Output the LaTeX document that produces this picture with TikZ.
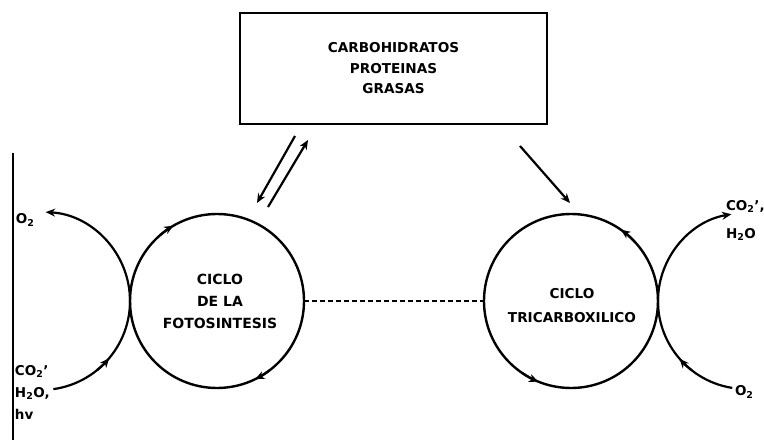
\documentclass[tikz,border=0pt]{standalone}
\usepackage{fontspec}
\setmainfont{DejaVu Sans}
\usetikzlibrary{arrows.meta,calc}
\begin{document}
\begin{tikzpicture}[x=1pt,y=1pt,line width=2pt,
  lbl/.style={font=\fontsize{13.5}{16}\selectfont\bfseries, inner sep=0pt},
  cyc/.style={circle, draw, minimum size=174pt, inner sep=0pt, outer sep=0pt, line width=2.4pt},
  ctext/.style={align=center, inner sep=0pt},
  tip/.style={-{Stealth[length=9.5pt,width=8pt]}, line width=2.2pt},
  link/.style={dash pattern=on 5pt off 3pt, line width=1.2pt}]
\useasboundingbox (0,0) rectangle (764,440);
% source box
\node[draw, minimum width=307pt, minimum height=111pt, line width=2.2pt, inner sep=0pt,
      align=center, font=\fontsize{13.6}{20.5}\selectfont\bfseries] (B) at (393.5,371.5)
      {CARBOHIDRATOS\\PROTEINAS\\GRASAS};
% cycles
\node[cyc] (L) at (217,139) {};
\node[cyc] (R) at (571,139) {};
\node[ctext, font=\fontsize{14}{22}\selectfont\bfseries] (Lt) at (220,139) {CICLO\\DE LA\\FOTOSINTESIS};
\node[ctext, font=\fontsize{13.6}{24}\selectfont\bfseries] (Rt) at (572,134) {CICLO\\TRICARBOXILICO};
\draw[link] (L.east) -- (R.west);
% direction marks on cycles
\draw[tip] (L.131) arc[start angle=131,end angle=120,radius=87];
\draw[tip] (L.-53) arc[start angle=-53,end angle=-64,radius=87];
\draw[tip] (R.43) arc[start angle=43,end angle=55,radius=87];
\draw[tip] (R.236) arc[start angle=236,end angle=248,radius=87];
% arrows from / to the box
\coordinate (a1s) at (295,304); \coordinate (a1e) at (257,237);
\coordinate (a2s) at (268,233); \coordinate (a2e) at (308,300);
\coordinate (a3s) at (520,294); \coordinate (a3e) at (570,237);
\draw[tip] (a1s) -- (a1e);
\draw[tip] (a2s) -- (a2e);
\draw[tip] (a3s) -- (a3e);
% side line
\coordinate (vt) at (13,287); \coordinate (vb) at (13,0);
\draw[line width=1.8pt] (vt) -- (vb);
% labels
\node[lbl, anchor=west] (o2l) at (15,220) {O\textsubscript{2}};
\node[lbl, anchor=north west, align=left, font=\fontsize{13.5}{22}\selectfont\bfseries] (inl) at (14,76)
  {CO\textsubscript{2}'\\H\textsubscript{2}O,\\hv};
\node[lbl, anchor=north west, align=left, font=\fontsize{13.5}{28}\selectfont\bfseries] (outr) at (725,241)
  {CO\textsubscript{2}',\\H\textsubscript{2}O};
\node[lbl, anchor=west] (o2r) at (734,48) {O\textsubscript{2}};
% outer exchange arcs
\coordinate (cl) at (41,139);
\coordinate (cr) at (746,139);
\draw[tip] ($(cl)+(-82:89)$) arc[start angle=-82,end angle=87,radius=89];
\draw[tip] ($(cl)+(-51:89)$) arc[start angle=-51,end angle=-40,radius=89];
\draw[tip] ($(cr)+(261:88)$) arc[start angle=261,end angle=99.5,radius=88];
\draw[tip] ($(cr)+(232:88)$) arc[start angle=232,end angle=221,radius=88];
\end{tikzpicture}
\end{document}
